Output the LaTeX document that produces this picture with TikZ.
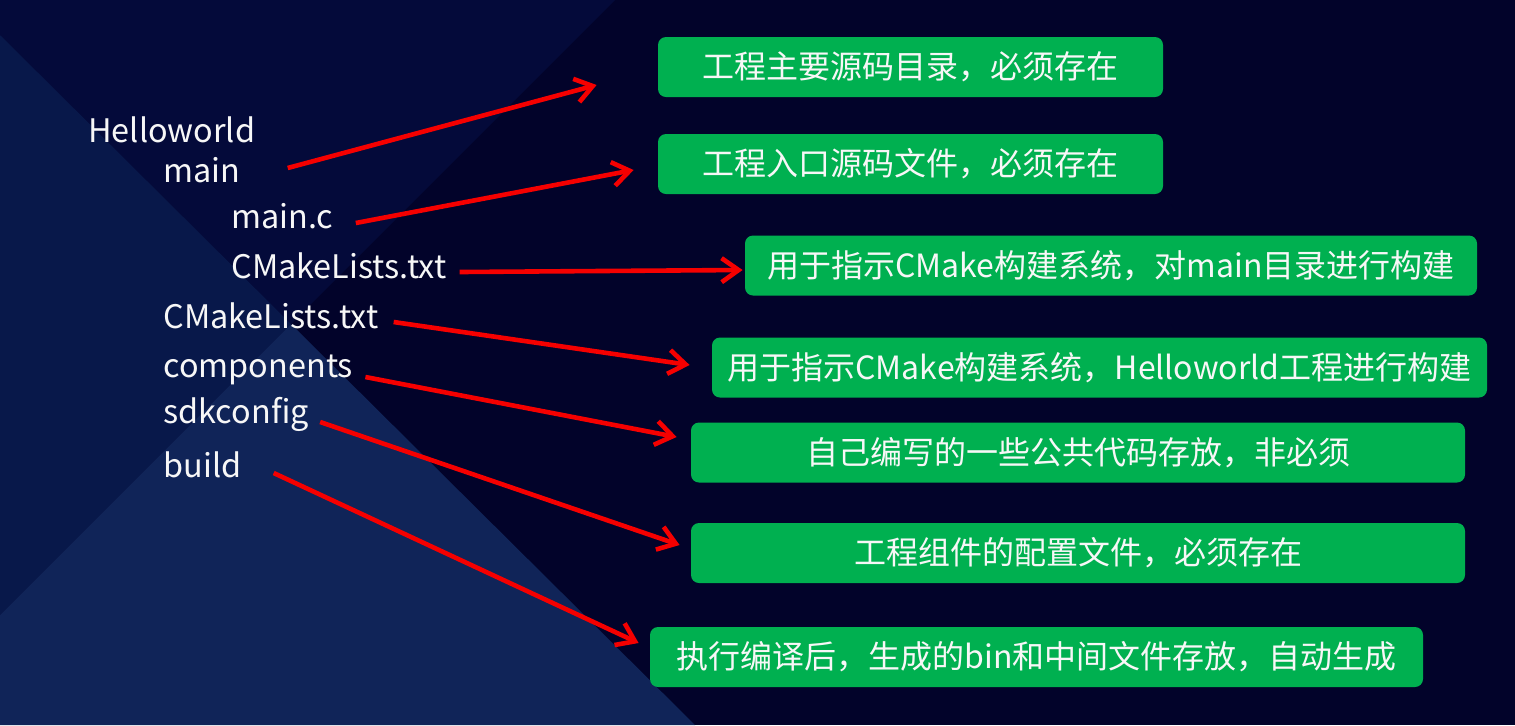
\documentclass[tikz,border=0pt]{standalone}
\usepackage{fontspec}
\setmainfont{Noto Sans CJK SC}
\usepackage{xcolor}
\usetikzlibrary{calc, arrows.meta}

\definecolor{bgdark}{RGB}{2,3,42}
\definecolor{bgtop}{RGB}{4,10,58}
\definecolor{bgwedge}{RGB}{8,24,74}
\definecolor{bgbottom}{RGB}{16,36,88}
\definecolor{boxgreen}{RGB}{0,176,80}
\definecolor{arrred}{RGB}{245,0,0}

\begin{document}
\begin{tikzpicture}[x=0.5pt, y=-0.5pt,
		lbl/.style={anchor=base west, inner sep=0pt, text=white!94!gray, font=\fontsize{16.2}{19}\selectfont},
		desc/.style={fill=boxgreen, rounded corners=4pt, text=white!94!gray, inner sep=0pt,
			minimum height=30pt, font=\fontsize{16}{18}\selectfont},
		arr/.style={draw=arrred, line width=2.3pt, -{Straight Barb[length=8.5pt,width=12pt]}}]
					\def\W{1515};
					\def\H{725};

					% background
					\begin{scope}
						\useasboundingbox (0,0) rectangle (\W,\H);
						\fill[bgdark] (0,0) rectangle (\W,\H);
						\fill[bgtop] (0,0) -- (615,0) -- (291,324) -- (0,35) -- cycle;
						\fill[bgwedge] (0,35) -- (291,324) -- (0,615) -- cycle;
						\fill[bgbottom] (0,615) -- (291,324) -- (695,725) -- (0,725) -- cycle;
					\end{scope}

					% directory tree
					\begin{scope}
						\foreach \name/\x/\y/\txt in {hello/88/142/Helloworld, main/163/182/main,
							mainc/231/228/main.c, subcmake/231/278/CMakeLists.txt,
							cmake/163/328/CMakeLists.txt, comp/163/377/components,
							sdk/163/423/sdkconfig, build/163/477/build}
						{
							\node[lbl] (\name) at (\x,\y) {\txt};
						}
					\end{scope}

					% descriptions
					\begin{scope}
						\foreach \name/\x/\y/\w/\txt in {
							d1/910.5/67/505/{工程主要源码目录，必须存在},
							d2/910.5/164/505/{工程入口源码文件，必须存在},
							d3/1111/265.5/732/{用于指示CMake构建系统，对main目录进行构建},
							d4/1099.5/367.5/775/{用于指示CMake构建系统，Helloworld工程进行构建},
							d5/1078/452.5/774/{自己编写的一些公共代码存放，非必须},
							d6/1078/553/774/{工程组件的配置文件，必须存在},
							d7/1036.5/657/773/{执行编译后，生成的bin和中间文件存放，自动生成}}
						{
							\node[desc, minimum width=\w*0.5pt] (\name) at (\x,\y) {\txt};
						}
					\end{scope}

					% arrows
					\begin{scope}
						\foreach \from/\to/\sx/\sy/\ex/\ey in {main/d1/47/-14/-61/18,
							mainc/d2/22/-5/-24/6, subcmake/d3/13/-6/-2/4.5,
							cmake/d4/15/-6/-22/-2.5, comp/d5/12/0/-14/-15.5,
							sdk/d6/11/-1/-11/-8, build/d7/32/-4/-11/-14}
						{
							\draw[arr] ($(\from.base east)+(\sx,\sy)$) -- ($(\to.west)+(\ex,\ey)$);
						}
					\end{scope}
				\end{tikzpicture}
\end{document}
